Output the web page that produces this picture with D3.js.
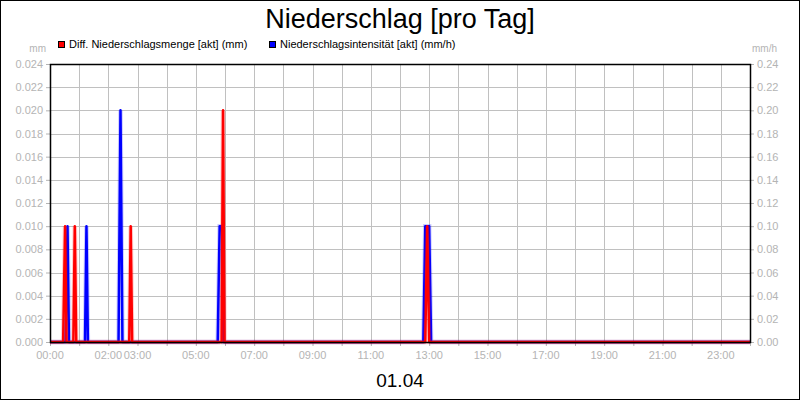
<!DOCTYPE html>
<html><head><meta charset="utf-8">
<script src="https://cdn.jsdelivr.net/npm/d3@7"></script>
<style>
html,body{margin:0;padding:0;background:#fff;}
svg{display:block;font-family:"Liberation Sans",Arial,sans-serif;}
</style></head>
<body>
<svg id="chart" width="800" height="400"></svg>
<script>
// ---- data ----
const title = "Niederschlag [pro Tag]";
const dateLabel = "01.04";
const seriesNames = ["Diff. Niederschlagsmenge [akt] (mm)", "Niederschlagsintensität [akt] (mm/h)"];
const leftUnit = "mm";
const rightUnit = "mm/h";
const xTickLabels = ["00:00","02:00","03:00","05:00","07:00","09:00","11:00","13:00","15:00","17:00","19:00","21:00","23:00"];
const leftTicks = [0,0.002,0.004,0.006,0.008,0.010,0.012,0.014,0.016,0.018,0.020,0.022,0.024];
const rightTicks = [0,0.02,0.04,0.06,0.08,0.10,0.12,0.14,0.16,0.18,0.20,0.22,0.24];

// Diff. Niederschlagsmenge (mm) - left axis
const mengeTimes  = ["00:00","00:27","00:31","00:34","00:48","00:51","00:54","02:43","02:46","02:49","05:53","05:56","05:59","12:52","12:56","13:00","24:00"];
const mengeValues = [0,      0,      0.01,   0,      0,      0.01,   0,      0,      0.01,   0,      0,      0.02,   0,      0,      0.01,   0,      0];

// Niederschlagsintensität (mm/h) - right axis
const intensTimes  = ["00:00","00:32","00:36","00:39","01:12","01:15","01:18","02:21","02:25","02:29","05:45","05:49","05:54","05:57","12:48","12:52","13:00","13:04","24:00"];
const intensValues = [0,      0,      0.1,    0,      0,      0.1,    0,      0,      0.2,    0,      0,      0.1,    0.1,    0,      0,      0.1,    0.1,    0,      0];

// ---- layout ----
const svg = d3.select("#chart");
const W = 800, H = 400;
const m = {left:50, right:750, top:64, bottom:342};
const grey = "#b4b4b4";
const toMin = s => { const [h, mm] = s.split(":").map(Number); return h*60+mm; };

const x = d3.scaleLinear().domain([0,1440]).range([m.left, m.right]);
const yL = d3.scaleLinear().domain([0,0.024]).range([m.bottom, m.top]);
const yR = d3.scaleLinear().domain([0,0.24]).range([m.bottom, m.top]);

// outer border
svg.append("rect").attr("x",0.5).attr("y",0.5).attr("width",W-1).attr("height",H-1)
  .attr("fill","#fff").attr("stroke","#000");

// title
svg.append("text").attr("x",400).attr("y",28).attr("text-anchor","middle")
  .attr("font-size",27).attr("fill","#000").text(title);

// legend
const leg = [{c:"#ff0000", x:58, t:seriesNames[0]}, {c:"#0000ff", x:269, t:seriesNames[1]}];
leg.forEach(l => {
  svg.append("rect").attr("x",l.x+0.5).attr("y",41.5).attr("width",6).attr("height",6)
    .attr("fill",l.c).attr("stroke","#000").attr("stroke-width",1);
  svg.append("text").attr("x",l.x+11).attr("y",48).attr("font-size",11).attr("fill","#000").text(l.t);
});

// gridlines
const hours = d3.range(0,1441,60);
svg.append("g").selectAll("line").data(hours).join("line")
  .attr("x1",d=>Math.round(x(d))+0.5).attr("x2",d=>Math.round(x(d))+0.5)
  .attr("y1",m.top).attr("y2",m.bottom).attr("stroke","#c0c0c0").attr("stroke-width",1);
svg.append("g").selectAll("line").data(leftTicks).join("line")
  .attr("x1",m.left).attr("x2",m.right)
  .attr("y1",d=>Math.round(yL(d))+0.5).attr("y2",d=>Math.round(yL(d))+0.5)
  .attr("stroke","#c0c0c0").attr("stroke-width",1);

// axes
const xAxis = d3.axisBottom(x).tickValues(hours).tickSize(4).tickFormat("");
const gx = svg.append("g").attr("transform",`translate(0,${m.bottom})`).call(xAxis);
gx.select(".domain").remove();
gx.selectAll("line").attr("stroke",grey);
svg.append("g").selectAll("text").data(xTickLabels).join("text")
  .attr("x",d=>x(toMin(d))).attr("y",359).attr("text-anchor","middle")
  .attr("font-size",11).attr("fill",grey).text(d=>d);

const gl = svg.append("g").attr("transform",`translate(${m.left},0)`)
  .call(d3.axisLeft(yL).tickValues(leftTicks).tickSize(4).tickPadding(3).tickFormat(d3.format(".3f")));
gl.select(".domain").remove();
gl.selectAll("line").attr("stroke",grey);
gl.selectAll("text").attr("font-size",11).attr("fill",grey).attr("font-family","Liberation Sans, Arial, sans-serif");

const gr = svg.append("g").attr("transform",`translate(${m.right},0)`)
  .call(d3.axisRight(yR).tickValues(rightTicks).tickSize(4).tickPadding(3).tickFormat(d3.format(".2f")));
gr.select(".domain").remove();
gr.selectAll("line").attr("stroke",grey);
gr.selectAll("text").attr("font-size",11).attr("fill",grey).attr("font-family","Liberation Sans, Arial, sans-serif");

svg.append("text").attr("x",46).attr("y",52).attr("text-anchor","end")
  .attr("font-size",10).attr("fill",grey).text(leftUnit);
svg.append("text").attr("x",777).attr("y",52).attr("text-anchor","end")
  .attr("font-size",10).attr("fill",grey).text(rightUnit);

// lines
const intens = intensTimes.map((t,i)=>({t:toMin(t), v:intensValues[i]}));
const menge = mengeTimes.map((t,i)=>({t:toMin(t), v:mengeValues[i]}));
const lineR = d3.line().x(d=>x(d.t)).y(d=>yR(d.v));
const lineL = d3.line().x(d=>x(d.t)).y(d=>yL(d.v));

svg.append("path").datum(intens).attr("d",lineR).attr("fill","none")
  .attr("stroke","#0000ff").attr("stroke-opacity",0.2).attr("stroke-width",4.5);
svg.append("path").datum(intens).attr("d",lineR).attr("fill","none")
  .attr("stroke","#0000ff").attr("stroke-width",2.5).attr("stroke-linejoin","round");
svg.append("path").datum(menge).attr("d",lineL).attr("fill","none")
  .attr("stroke","#ff0000").attr("stroke-opacity",0.2).attr("stroke-width",4.5);
svg.append("path").datum(menge).attr("d",lineL).attr("fill","none")
  .attr("stroke","#ff0000").attr("stroke-width",2.5).attr("stroke-linejoin","round");

// plot frame
svg.append("rect").attr("x",m.left+0.5).attr("y",m.top+0.5)
  .attr("width",m.right-m.left).attr("height",m.bottom-m.top)
  .attr("fill","none").attr("stroke","#000").attr("stroke-width",1.5);

// date label
svg.append("text").attr("x",400).attr("y",387).attr("text-anchor","middle")
  .attr("font-size",19).attr("fill","#000").text(dateLabel);
</script>
</body></html>
